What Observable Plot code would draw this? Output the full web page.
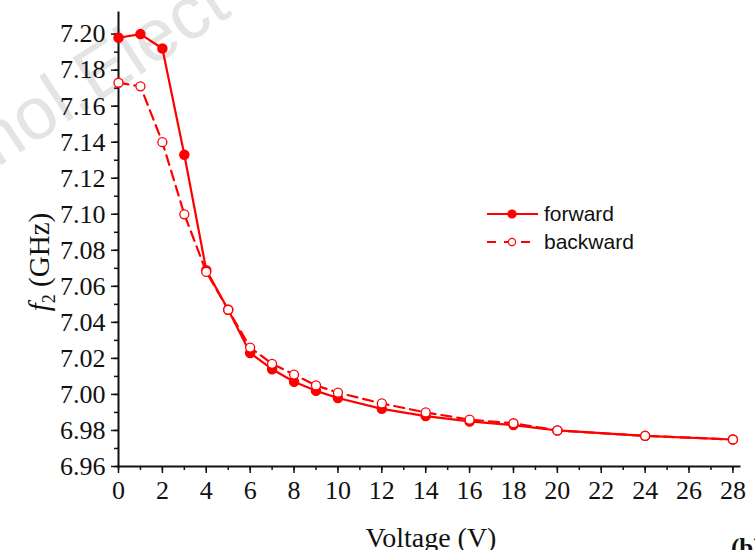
<!DOCTYPE html>
<html><head><meta charset="utf-8">
<script src="https://cdn.jsdelivr.net/npm/d3@7"></script>
<script src="https://cdn.jsdelivr.net/npm/@observablehq/plot@0.6"></script>
<style>
body{margin:0;background:#fff;}
#wrap{position:relative;width:755px;height:550px;overflow:hidden;}
</style></head>
<body><div id="wrap"></div>
<script>
const voltageF = [0,1,2,3,4,5,6,7,8,9,10,12,14,16,18,20,24,28];
const forward  = [7.198,7.200,7.192,7.133,7.069,7.047,7.023,7.014,7.007,7.002,6.998,6.992,6.988,6.985,6.983,6.980,6.977,6.975];
const voltageB = [0,1,2,3,4,5,6,7,8,9,10,12,14,16,18,20,24,28];
const backward = [7.173,7.171,7.140,7.100,7.068,7.047,7.026,7.017,7.011,7.005,7.001,6.995,6.990,6.986,6.984,6.980,6.977,6.975];
const xTicks = d3.range(0, 29, 2);
const xMinor = d3.range(0, 29, 1);
const yTicks = d3.range(0, 13).map(i => +(6.96 + i*0.02).toFixed(2));
const yMinor = d3.range(0, 25).map(i => +(6.96 + i*0.01).toFixed(3));
const seriesNames = ["forward", "backward"];

const fData = voltageF.map((v,i)=>({v, f: forward[i]}));
const bData = voltageB.map((v,i)=>({v, f: backward[i]}));
const red = "#ff0000";
const serif = "'Liberation Serif','Times New Roman',serif";

const plot = Plot.plot({
  width: 755, height: 550,
  marginLeft: 118, marginRight: 16, marginTop: 12, marginBottom: 84,
  style: {fontFamily: serif, fontSize: "26px", color: "#111", background: "transparent"},
  x: {domain: [0, 28.3]},
  y: {domain: [6.96, 7.212]},
  marks: [
    Plot.axisX({ticks: xMinor, tickSize: 4, tickFormat: () => "", strokeWidth: 1.5, label: null}),
    Plot.axisX({ticks: xTicks, tickSize: 7, tickPadding: 7, strokeWidth: 1.5, fontSize: 26, label: null, tickFormat: d => String(d)}),
    Plot.axisY({ticks: yMinor, tickSize: 4, tickFormat: () => "", strokeWidth: 1.5, label: null}),
    Plot.axisY({ticks: yTicks, tickSize: 7, tickPadding: 6, strokeWidth: 1.5, fontSize: 26, label: null, tickFormat: d3.format(".2f")}),
    Plot.frame({anchor: "left", strokeWidth: 2}),
    Plot.frame({anchor: "bottom", strokeWidth: 2}),
    Plot.line(bData, {x: "v", y: "f", stroke: red, strokeWidth: 2.2, strokeDasharray: "10,6"}),
    Plot.line(fData, {x: "v", y: "f", stroke: red, strokeWidth: 2.2}),
    Plot.dot(fData, {x: "v", y: "f", r: 4.5, fill: red, stroke: red}),
    Plot.dot(bData, {x: "v", y: "f", r: 4.5, fill: "white", stroke: red, strokeWidth: 1.3})
  ]
});
const wrap = document.getElementById("wrap");
wrap.appendChild(plot);

const svg = d3.select(plot);
const sans = "'Liberation Sans',Arial,sans-serif";
// faint watermark behind everything
svg.insert("text", ":first-child")
  .attr("transform", "translate(-22,180) rotate(-33)")
  .attr("text-anchor", "start").attr("font-family", sans).attr("font-size", 74)
  .attr("fill", "#e4e4e4").text("mol.Elect");

// axis titles
svg.append("text").attr("x", 431).attr("y", 547).attr("text-anchor", "middle")
  .attr("font-family", serif).attr("font-size", 28).attr("fill", "#111").text("Voltage (V)");
const yl = svg.append("text").attr("transform", "translate(49,262) rotate(-90)")
  .attr("text-anchor", "middle").attr("font-family", serif).attr("font-size", 29).attr("fill", "#111");
yl.append("tspan").attr("font-style", "italic").text("f");
yl.append("tspan").attr("font-size", 18).attr("dy", 6).text("2");
yl.append("tspan").attr("dy", -6).text(" (GHz)");
svg.append("text").attr("x", 731).attr("y", 556).attr("text-anchor", "start").attr("font-family", serif)
  .attr("font-weight", "bold").attr("font-size", 25).attr("fill", "#111").text("(b)");

// legend
seriesNames.forEach((name, i) => {
  const y = 214 + i*28;
  const g = svg.append("g");
  g.append("line").attr("x1", 487).attr("x2", 538).attr("y1", y).attr("y2", y)
    .attr("stroke", red).attr("stroke-width", 2.2).attr("stroke-dasharray", i ? "9,8" : null);
  g.append("circle").attr("cx", 512).attr("cy", y).attr("r", i ? 3.6 : 4)
    .attr("fill", i ? "white" : red).attr("stroke", red).attr("stroke-width", 1.2);
  g.append("text").attr("x", 544).attr("y", y + 7).attr("text-anchor", "start")
    .attr("font-family", sans).attr("font-size", 21).attr("fill", "#111").text(name);
});
</script></body></html>
